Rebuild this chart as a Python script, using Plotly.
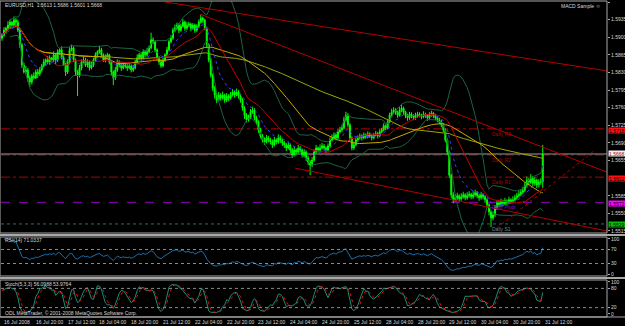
import numpy as np
import pandas as pd
import plotly.graph_objects as go

# ---------------- data (pips above 1.5500) ----------------
BASE = 1.5500
first_open_pips = 398
close_pips = [
    404,414,418,424,430,424,434,430,414,385,
    345,331,335,319,311,323,319,331,327,335,
    343,351,355,351,359,355,365,355,371,375,
    359,345,331,351,375,379,355,331,325,339,
    351,355,345,351,339,345,355,365,371,375,
    365,355,359,365,351,331,319,335,351,345,
    339,345,343,339,343,335,339,351,359,365,
    359,371,365,371,379,395,391,375,359,351,
    343,355,365,375,391,398,414,418,424,414,
    422,430,418,424,426,418,424,414,422,430,
    438,434,418,385,355,325,299,285,275,285,
    279,285,275,283,279,285,291,285,291,283,
    275,259,245,236,240,251,255,240,232,216,
    204,196,192,200,196,192,186,196,192,200,
    196,190,186,180,186,176,166,176,172,180,
    176,166,172,160,152,146,156,172,180,176,
    180,184,180,176,184,196,200,206,200,212,
    216,220,236,245,226,200,180,186,196,200,
    204,200,206,202,208,204,200,206,208,204,
    212,216,224,220,232,245,251,255,251,245,
    255,259,251,244,240,247,244,240,244,247,
    245,242,247,244,240,245,249,244,240,236,
    232,226,216,196,172,126,87,77,81,85,
    79,83,87,81,85,88,83,87,91,85,
    81,87,83,77,67,53,41,47,61,71,
    67,73,69,75,71,77,73,77,81,85,
    88,92,96,106,116,112,120,110,116,106,
    112,113,168]
high_pips = [
    408,420,421,432,435,432,441,438,435,417,
    389,350,343,339,324,327,330,336,337,341,
    347,357,358,363,364,361,372,369,376,378,
    382,364,349,356,380,385,382,358,335,345,
    356,362,359,356,354,352,359,370,374,383,
    379,368,366,369,367,355,334,341,356,354,
    350,351,349,347,350,346,345,355,366,369,
    370,376,374,379,384,409,400,394,378,363,
    356,360,368,381,395,404,419,425,429,428,
    427,436,433,430,431,429,428,427,426,435,
    444,441,437,421,388,359,328,303,290,291,
    289,292,288,289,287,291,297,294,298,295,
    286,279,263,249,246,257,262,259,244,235,
    220,208,201,206,204,200,197,202,199,207,
    205,199,194,190,193,189,180,183,179,186,
    184,179,178,175,164,156,162,177,186,183,
    187,190,188,183,189,201,207,211,209,217,
    222,226,242,252,249,229,203,192,200,205,
    209,207,211,209,213,211,208,210,214,212,
    217,220,229,227,237,250,258,261,259,254,
    261,266,262,254,248,252,251,247,250,252,
    251,248,253,250,247,251,254,252,248,243,
    240,236,229,219,199,175,129,92,88,91,
    88,90,93,90,92,94,91,94,97,94,
    89,93,90,86,80,70,57,54,66,76,
    75,79,77,81,78,83,80,84,87,91,
    95,98,103,112,123,120,128,124,122,119,
    118,120,186]
low_pips = [
    393,401,407,414,418,421,422,422,410,379,
    339,328,326,311,301,306,316,317,319,323,
    330,340,344,347,345,352,351,347,351,365,
    356,343,323,327,346,372,351,324,283,320,
    334,348,341,340,334,336,341,352,360,367,
    359,351,350,355,346,325,305,315,331,340,
    333,336,338,333,336,330,331,336,348,355,
    353,356,360,362,368,376,386,370,355,345,
    339,340,351,362,372,388,395,410,414,408,
    411,419,413,414,420,412,415,409,410,418,
    427,429,414,380,350,320,293,278,269,272,
    274,276,270,271,273,276,282,280,283,278,
    270,254,238,231,232,237,248,235,226,210,
    199,191,186,189,191,187,180,183,187,188,
    190,184,180,174,177,170,160,163,166,169,
    171,161,162,154,146,126,142,153,169,171,
    173,177,175,170,173,181,193,196,195,197,
    209,212,217,232,221,194,175,176,183,192,
    197,195,197,198,199,200,195,197,203,199,
    201,209,213,215,217,229,241,247,246,240,
    242,251,246,239,234,236,239,235,236,240,
    241,237,239,240,234,237,242,239,235,231,
    227,221,211,191,166,120,80,70,73,77,
    74,75,79,76,77,81,78,79,83,80,
    75,77,78,71,61,46,23,36,43,57,
    62,63,64,66,66,68,69,70,73,77,
    81,84,88,92,101,106,108,104,105,100,
    102,107,101]

time_labels = ["16 Jul 2008", "16 Jul 20:00", "17 Jul 12:00", "18 Jul 04:00", "18 Jul 20:00",
               "21 Jul 12:00", "22 Jul 04:00", "22 Jul 20:00", "23 Jul 12:00", "24 Jul 04:00",
               "24 Jul 20:00", "25 Jul 12:00", "28 Jul 04:00", "28 Jul 20:00", "29 Jul 12:00",
               "30 Jul 04:00", "30 Jul 20:00", "31 Jul 12:00"]
label_step = 16

# 1.5620 is hidden behind the R1 price box in the reference
price_ticks = [1.5515, 1.5550, 1.5585, 1.5655, 1.5690, 1.5725, 1.5760, 1.5795,
               1.5830, 1.5865, 1.5900, 1.5935, 1.5970]

pivot_names = ["Daily R3", "Daily R2", "Daily R1", "Daily Pivot", "Daily S1"]
pivot_values = [1.5718, 1.5666, 1.5622, 1.5572, 1.5529]
pivot_colors = ["#b00000", "#b00000", "#b00000", "#9a00c8", "#2e6e6e"]
pivot_dash = ["dashdot", "dashdot", "dashdot", "dash", "dot"]
pivot_box = ["#ff1010", None, "#ff1010", "#ff00ff", "#00c000"]
box_shift = [-2, 0, -1, -1, -1]
bid_price = 1.5668

# trend lines: (bar0, price0, bar1, price1, dash)
trend_lines = [
    (82.0, 1.5970, 304.3, 1.5833, "solid"),
    (99.6, 1.5946, 304.3, 1.5632, "solid"),
    (147.4, 1.5640, 304.3, 1.5515, "solid"),
    (249.0, 1.5521, 298.3, 1.5676, "dot"),
]

# ---------------- derived series ----------------
n = len(close_pips)
idx = np.arange(n)
c = pd.Series([BASE + p / 10000 for p in close_pips])
h = pd.Series([BASE + p / 10000 for p in high_pips])
l = pd.Series([BASE + p / 10000 for p in low_pips])
o = c.shift(1)
o.iloc[0] = BASE + first_open_pips / 10000

sma20 = c.rolling(20, min_periods=1).mean()
ema10 = c.ewm(span=10, adjust=False).mean()
sma50 = c.rolling(50, min_periods=1).mean()
sma100 = c.rolling(100, min_periods=1).mean()
bb_mid = c.rolling(20, min_periods=5).mean()
bb_sd = c.rolling(20, min_periods=5).std(ddof=0)
bb_up = bb_mid + 2 * bb_sd
bb_lo = bb_mid - 2 * bb_sd

d = c.diff()
up = d.clip(lower=0).ewm(alpha=1 / 14, adjust=False).mean()
dn = (-d.clip(upper=0)).ewm(alpha=1 / 14, adjust=False).mean()
rsi = 100 - 100 / (1 + up / dn)
rsi.iloc[0] = np.nan

ll = l.rolling(5, min_periods=1).min()
hh = h.rolling(5, min_periods=1).max()
stk = (c - ll).rolling(3, min_periods=1).sum() / (hh - ll).rolling(3, min_periods=1).sum() * 100
std_ = stk.rolling(3, min_periods=1).mean()

# ---------------- figure ----------------
FONT = "Liberation Sans"
TXT = "#d8d8d8"
fig = go.Figure()

for s, col, dash, w in [(bb_up, "#1c6440", "solid", 1), (bb_lo, "#1c6440", "solid", 1),
                        (sma100, "#9aa800", "solid", 1), (sma50, "#c8a800", "solid", 1),
                        (sma20, "#c80000", "solid", 1), (ema10, "#3a3aff", "dot", 1)]:
    fig.add_trace(go.Scatter(x=idx, y=s, mode="lines", line=dict(color=col, width=w, dash=dash),
                             hoverinfo="skip", xaxis="x", yaxis="y"))

fig.add_trace(go.Candlestick(
    x=idx, open=o, high=h, low=l, close=c,
    increasing=dict(line=dict(color="#00ff00", width=1), fillcolor="#00ff00"),
    decreasing=dict(line=dict(color="#00ff00", width=1), fillcolor="#00ff00"),
    hoverinfo="skip", xaxis="x", yaxis="y"))

fig.add_trace(go.Scatter(x=idx, y=rsi, mode="lines", line=dict(color="#1f6fa8", width=1),
                         hoverinfo="skip", xaxis="x2", yaxis="y2"))
fig.add_trace(go.Scatter(x=idx, y=stk, mode="lines", line=dict(color="#1f8f78", width=1),
                         hoverinfo="skip", xaxis="x3", yaxis="y3"))
fig.add_trace(go.Scatter(x=idx, y=std_, mode="lines", line=dict(color="#e01010", width=1, dash="dot"),
                         hoverinfo="skip", xaxis="x3", yaxis="y3"))

shapes = []
for v, col, ds in zip(pivot_values, pivot_colors, pivot_dash):
    shapes.append(dict(type="line", xref="x domain", yref="y", x0=0, x1=1, y0=v, y1=v,
                       line=dict(color=col, width=1, dash=ds), layer="below"))
shapes.append(dict(type="line", xref="x domain", yref="y", x0=0, x1=1, y0=bid_price, y1=bid_price,
                   line=dict(color="#9a9a9a", width=1), layer="below"))
for b0, p0, b1, p1, ds in trend_lines:
    shapes.append(dict(type="line", xref="x", yref="y", x0=b0, y0=p0, x1=b1, y1=p1,
                       line=dict(color="#b40000", width=1, dash=ds)))
for lv in (30, 70):
    shapes.append(dict(type="line", xref="x2 domain", yref="y2", x0=0, x1=1, y0=lv, y1=lv,
                       line=dict(color="#8a8a8a", width=1, dash="dot")))
for lv in (20, 80):
    shapes.append(dict(type="line", xref="x3 domain", yref="y3", x0=0, x1=1, y0=lv, y1=lv,
                       line=dict(color="#8a8a8a", width=1, dash="dot")))

GRAY = "#a8a8a8"
doms = [(0.2658, 1.0), (0.1297, 0.2532), (0.0, 0.1171)]
for y0, y1 in doms:
    shapes.append(dict(type="rect", xref="paper", yref="paper", x0=-0.0016, x1=1.0, y0=y0, y1=y1,
                       line=dict(color=GRAY, width=1)))
shapes.append(dict(type="rect", xref="paper", yref="paper", x0=-0.01, x1=1.05, y0=0.2560, y1=0.2630,
                   fillcolor=GRAY, line=dict(width=0)))
shapes.append(dict(type="rect", xref="paper", yref="paper", x0=-0.01, x1=1.05, y0=0.1200, y1=0.1268,
                   fillcolor=GRAY, line=dict(width=0)))
shapes.append(dict(type="line", xref="paper", yref="paper", x0=-0.01, x1=1.05, y0=0.0, y1=0.0,
                   line=dict(color=GRAY, width=1)))

ann = []
def text(x, y, s, xref="paper", yref="paper", color=TXT, size=5, xanchor="left", yanchor="middle"):
    ann.append(dict(x=x, y=y, xref=xref, yref=yref, text=s, showarrow=False, xanchor=xanchor,
                    yanchor=yanchor, font=dict(family=FONT, size=size, color=color)))

text(0.0033, 0.9873, "EURUSD,H1  1.5613 1.5686 1.5601 1.5668")
text(0.9934, 0.984, "MACD Sample \u263a", xanchor="right")
text(0.0033, 0.2437, "RSI(14) 71.0337")
text(0.0033, 0.1044, "Stoch(5,3,3) 56.0988 53.9764")
text(0.0033, 0.0127, "ODL MetaTrader, \u00a9 2001-2008 MetaQuotes Software Corp.")
for k, lab in enumerate(time_labels):
    text(k * label_step, -0.0165, lab, xref="x", yref="paper")
for name, v, col in zip(pivot_names, pivot_values, pivot_colors):
    text(245.5, v, name, xref="x", yref="y", color=col if col != "#2e6e6e" else "#6a8a8a",
         yanchor="top")
for v, bx, ys in zip(pivot_values, pivot_box, box_shift):
    if bx is None:
        continue
    ann.append(dict(x=1.0, y=v, xref="paper", yref="y", text=f"{v:.4f}", showarrow=False,
                    xanchor="left", yanchor="middle", xshift=1, yshift=ys, bgcolor=bx, borderpad=0,
                    width=16, height=5, align="left", font=dict(family=FONT, size=5, color="#000000")))
ann.append(dict(x=1.0, y=bid_price, xref="paper", yref="y", text=f"{bid_price:.4f}", showarrow=False,
                xanchor="left", yanchor="middle", xshift=1, bgcolor="#f0f0f0", borderpad=0,
                width=16, height=5, align="left", font=dict(family=FONT, size=5, color="#c00000")))

ax_common = dict(showgrid=False, zeroline=False, showticklabels=False, showline=False,
                 range=[-0.503, 304.33])
yfont = dict(family=FONT, size=5, color=TXT)
fig.update_layout(
    width=625, height=326, margin=dict(l=1, r=18, t=1, b=9),
    paper_bgcolor="#000000", plot_bgcolor="#000000", showlegend=False, hovermode=False,
    xaxis=dict(anchor="y", rangeslider=dict(visible=False), **ax_common),
    xaxis2=dict(anchor="y2", matches="x", **ax_common),
    xaxis3=dict(anchor="y3", matches="x", **ax_common),
    yaxis=dict(domain=list(doms[0]), range=[1.5511, 1.5972], side="right", anchor="x",
               tickvals=price_ticks, ticktext=[f"{t:.4f}" for t in price_ticks], tickfont=yfont,
               ticks="outside", ticklen=2, tickcolor=GRAY, showgrid=False, zeroline=False,
               automargin=False),
    yaxis2=dict(domain=list(doms[1]), range=[-5.7, 105.7], side="right", anchor="x2",
                tickvals=[0, 30, 70, 100], tickfont=yfont, ticks="outside", ticklen=2, tickcolor=GRAY,
                showgrid=False, zeroline=False, automargin=False),
    yaxis3=dict(domain=list(doms[2]), range=[-9.4, 106.25], side="right", anchor="x3",
                tickvals=[0, 20, 80, 100], tickfont=yfont, ticks="outside", ticklen=2, tickcolor=GRAY,
                showgrid=False, zeroline=False, automargin=False),
    shapes=shapes, annotations=ann,
)

fig.write_html("out.html")
